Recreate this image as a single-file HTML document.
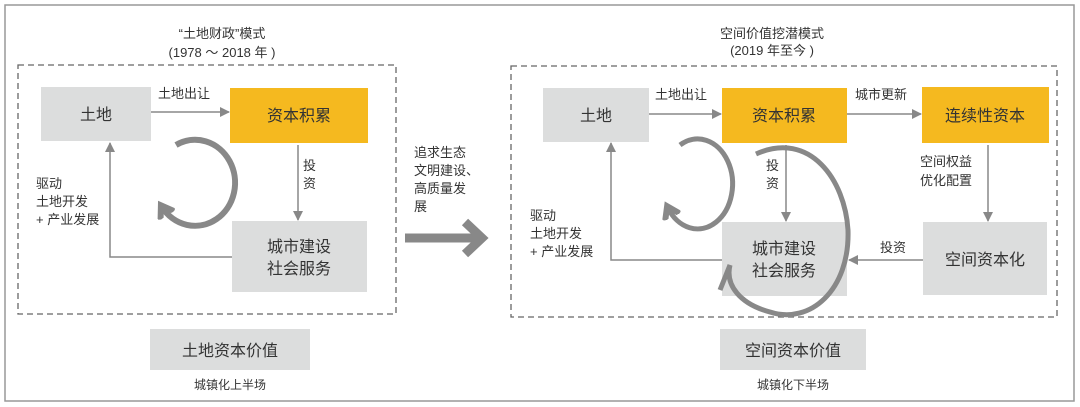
<!DOCTYPE html>
<html><head><meta charset="utf-8"><style>
html,body{margin:0;padding:0;background:#fff}
svg{display:block}
text{font-family:"Liberation Sans","Noto Sans CJK SC",sans-serif;fill:#333}
</style></head><body>
<svg width="1080" height="407" viewBox="0 0 1080 407" xmlns="http://www.w3.org/2000/svg">
<defs>
<marker id="ah" markerWidth="10" markerHeight="10" refX="9" refY="5" orient="auto" markerUnits="userSpaceOnUse">
<path d="M0,0 L10,5 L0,10 z" fill="#888"/></marker>
<marker id="ah2" markerWidth="20" markerHeight="20" refX="10" refY="10" orient="auto" markerUnits="userSpaceOnUse">
<path d="M0,2 L12,10 L0,18" fill="none" stroke="#888" stroke-width="6"/></marker>
</defs>
<rect x="5" y="5" width="1069" height="396" fill="none" stroke="#999" stroke-width="1.5"/>
<!-- left -->
<text x="222" y="38" font-size="13" text-anchor="middle">“土地财政”模式</text>
<text x="222" y="57" font-size="13" text-anchor="middle">(1978 ～ 2018 年 )</text>
<rect x="18" y="65" width="378" height="249" fill="none" stroke="#666" stroke-width="1.3" stroke-dasharray="6,4"/>
<rect x="41" y="87" width="110" height="54" fill="#dcdddd"/>
<text x="96" y="120" font-size="16" text-anchor="middle">土地</text>
<rect x="230" y="88" width="138" height="55" fill="#f5b91f"/>
<text x="299" y="121" font-size="16" text-anchor="middle">资本积累</text>
<rect x="232" y="221" width="135" height="71" fill="#dcdddd"/>
<text x="299" y="252" font-size="16" text-anchor="middle">城市建设</text>
<text x="299" y="274" font-size="16" text-anchor="middle">社会服务</text>
<line x1="151" y1="112" x2="229" y2="112" stroke="#888" stroke-width="1.5" marker-end="url(#ah)"/>
<text x="158" y="98" font-size="13">土地出让</text>
<line x1="298" y1="145" x2="298" y2="220" stroke="#888" stroke-width="1.5" marker-end="url(#ah)"/>
<text x="303" y="170" font-size="13">投</text><text x="303" y="188" font-size="13">资</text>
<polyline points="232,257 110,257 110,143" fill="none" stroke="#888" stroke-width="1.5" marker-end="url(#ah)"/>
<text x="36" y="188" font-size="13">驱动</text>
<text x="36" y="206" font-size="13">土地开发</text>
<text x="36" y="224" font-size="13">+ 产业发展</text>
<path d="M176,145 A40,43 0 1 1 162,207" fill="none" stroke="#888" stroke-width="6" marker-end="url(#ah2)"/>
<rect x="150" y="329" width="160" height="41" fill="#dcdddd"/>
<text x="230" y="356" font-size="16" text-anchor="middle">土地资本价值</text>
<text x="230" y="389" font-size="12" text-anchor="middle">城镇化上半场</text>
<!-- middle -->
<text x="414" y="157" font-size="13">追求生态</text>
<text x="414" y="175" font-size="13">文明建设、</text>
<text x="414" y="193" font-size="13">高质量发</text>
<text x="414" y="211" font-size="13">展</text>
<line x1="405" y1="238" x2="478" y2="238" stroke="#888" stroke-width="9"/>
<path d="M465,222 L482,238 L465,254" fill="none" stroke="#888" stroke-width="9"/>
<!-- right -->
<text x="772" y="38" font-size="13" text-anchor="middle">空间价值挖潜模式</text>
<text x="772" y="55" font-size="13" text-anchor="middle">(2019 年至今 )</text>
<rect x="511" y="66" width="546" height="251" fill="none" stroke="#666" stroke-width="1.3" stroke-dasharray="6,4"/>
<rect x="543" y="88" width="106" height="54" fill="#dcdddd"/>
<text x="596" y="121" font-size="16" text-anchor="middle">土地</text>
<rect x="722" y="88" width="125" height="55" fill="#f5b91f"/>
<text x="784" y="121" font-size="16" text-anchor="middle">资本积累</text>
<rect x="922" y="87" width="127" height="56" fill="#f5b91f"/>
<text x="985" y="121" font-size="16" text-anchor="middle">连续性资本</text>
<rect x="722" y="222" width="125" height="74" fill="#dcdddd"/>
<text x="784" y="254" font-size="16" text-anchor="middle">城市建设</text>
<text x="784" y="276" font-size="16" text-anchor="middle">社会服务</text>
<rect x="923" y="222" width="124" height="73" fill="#dcdddd"/>
<text x="985" y="265" font-size="16" text-anchor="middle">空间资本化</text>
<line x1="649" y1="114" x2="721" y2="114" stroke="#888" stroke-width="1.5" marker-end="url(#ah)"/>
<text x="655" y="99" font-size="13">土地出让</text>
<line x1="847" y1="114" x2="921" y2="114" stroke="#888" stroke-width="1.5" marker-end="url(#ah)"/>
<text x="855" y="99" font-size="13">城市更新</text>
<line x1="786" y1="145" x2="786" y2="221" stroke="#888" stroke-width="1.5" marker-end="url(#ah)"/>
<text x="766" y="170" font-size="13">投</text><text x="766" y="188" font-size="13">资</text>
<line x1="988" y1="145" x2="988" y2="221" stroke="#888" stroke-width="1.5" marker-end="url(#ah)"/>
<text x="920" y="166" font-size="13">空间权益</text>
<text x="920" y="185" font-size="13">优化配置</text>
<line x1="923" y1="260" x2="849" y2="260" stroke="#888" stroke-width="1.5" marker-end="url(#ah)"/>
<text x="880" y="252" font-size="13">投资</text>
<polyline points="722,260 611,260 611,143" fill="none" stroke="#888" stroke-width="1.5" marker-end="url(#ah)"/>
<text x="530" y="220" font-size="13">驱动</text>
<text x="530" y="238" font-size="13">土地开发</text>
<text x="530" y="256" font-size="13">+ 产业发展</text>
<path d="M680,145 A35,45 0 1 1 668,208" fill="none" stroke="#888" stroke-width="5" marker-end="url(#ah2)"/>
<path d="M756,154 C810,130 845,180 848,230 C850,290 810,325 770,312 C740,304 725,285 730,265 L720,290" fill="none" stroke="#888" stroke-width="5"/>
<rect x="720" y="329" width="146" height="41" fill="#dcdddd"/>
<text x="793" y="356" font-size="16" text-anchor="middle">空间资本价值</text>
<text x="793" y="389" font-size="12" text-anchor="middle">城镇化下半场</text>
</svg>
</body></html>
